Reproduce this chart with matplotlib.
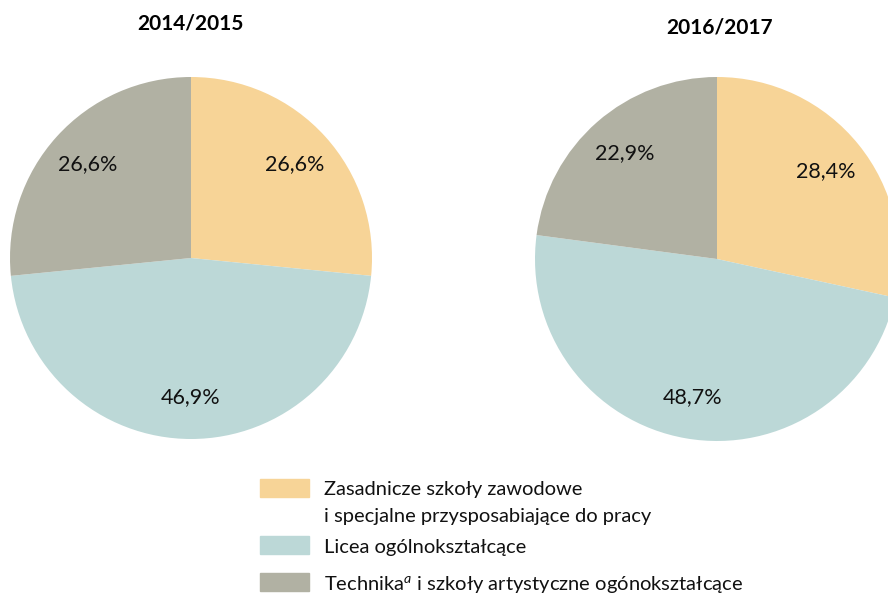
import matplotlib.pyplot as plt
from matplotlib.patches import Rectangle

plt.rcParams['font.family'] = ['Lato', 'DejaVu Sans']
plt.rcParams['mathtext.fontset'] = 'custom'
plt.rcParams['mathtext.rm'] = 'Lato'
plt.rcParams['mathtext.it'] = 'Lato:italic'

# dane
lata = ['2014/2015', '2016/2017']
udzialy_2014 = [26.6, 46.9, 26.6]
udzialy_2016 = [28.4, 48.7, 22.9]
kategorie = [['Zasadnicze szkoły zawodowe', 'i specjalne przysposabiające do pracy'],
             ['Licea ogólnokształcące'],
             ['Technika$^{a}$ i szkoły artystyczne ogónokształcące']]
kolory = ['#F7D497', '#BCD8D7', '#B1B1A3']

W, H = 888, 595
fig = plt.figure(figsize=(W / 100, H / 100), dpi=100)


def px_axes(cx, cy, r):
    # osie w pikselach (od gory)
    return fig.add_axes([(cx - r) / W, (H - cy - r) / H, 2 * r / W, 2 * r / H])


def rysuj(ax, wartosci):
    etykiety = [f'{v:.1f}%'.replace('.', ',') for v in wartosci]
    wedges, teksty = ax.pie(wartosci, colors=kolory, startangle=90, counterclock=False,
                            labels=etykiety, labeldistance=0.77, radius=1,
                            textprops={'fontsize': 15.5, 'color': '#111111'})
    for t in teksty:
        t.set_ha('center')
        t.set_va('center')
    ax.set_xlim(-1, 1)
    ax.set_ylim(-1, 1)
    ax.set_aspect('equal')
    ax.axis('off')


ax1 = px_axes(191, 258, 181)
rysuj(ax1, udzialy_2014)
ax2 = px_axes(717, 259, 182)
rysuj(ax2, udzialy_2016)

fig.text(190 / W, 1 - 24 / H, lata[0], ha='center', va='center', fontsize=15, fontweight='bold')
fig.text(720 / W, 1 - 27 / H, lata[1], ha='center', va='center', fontsize=15, fontweight='bold')

# legenda: gorna krawedz prostokata i linie bazowe tekstu (piksele)
prostokaty = [479, 536, 573]
linie = [[495, 522], [553], [590]]
for wiersze, kol, y, bazy in zip(kategorie, kolory, prostokaty, linie):
    fig.patches.append(Rectangle((260 / W, 1 - (y + 18) / H), 49 / W, 18 / H,
                                 transform=fig.transFigure, color=kol))
    for tekst, b in zip(wiersze, bazy):
        fig.text(324 / W, 1 - b / H, tekst, ha='left', va='baseline',
                 fontsize=14.5, color='#111111')

fig.savefig('out.png', dpi=100)
